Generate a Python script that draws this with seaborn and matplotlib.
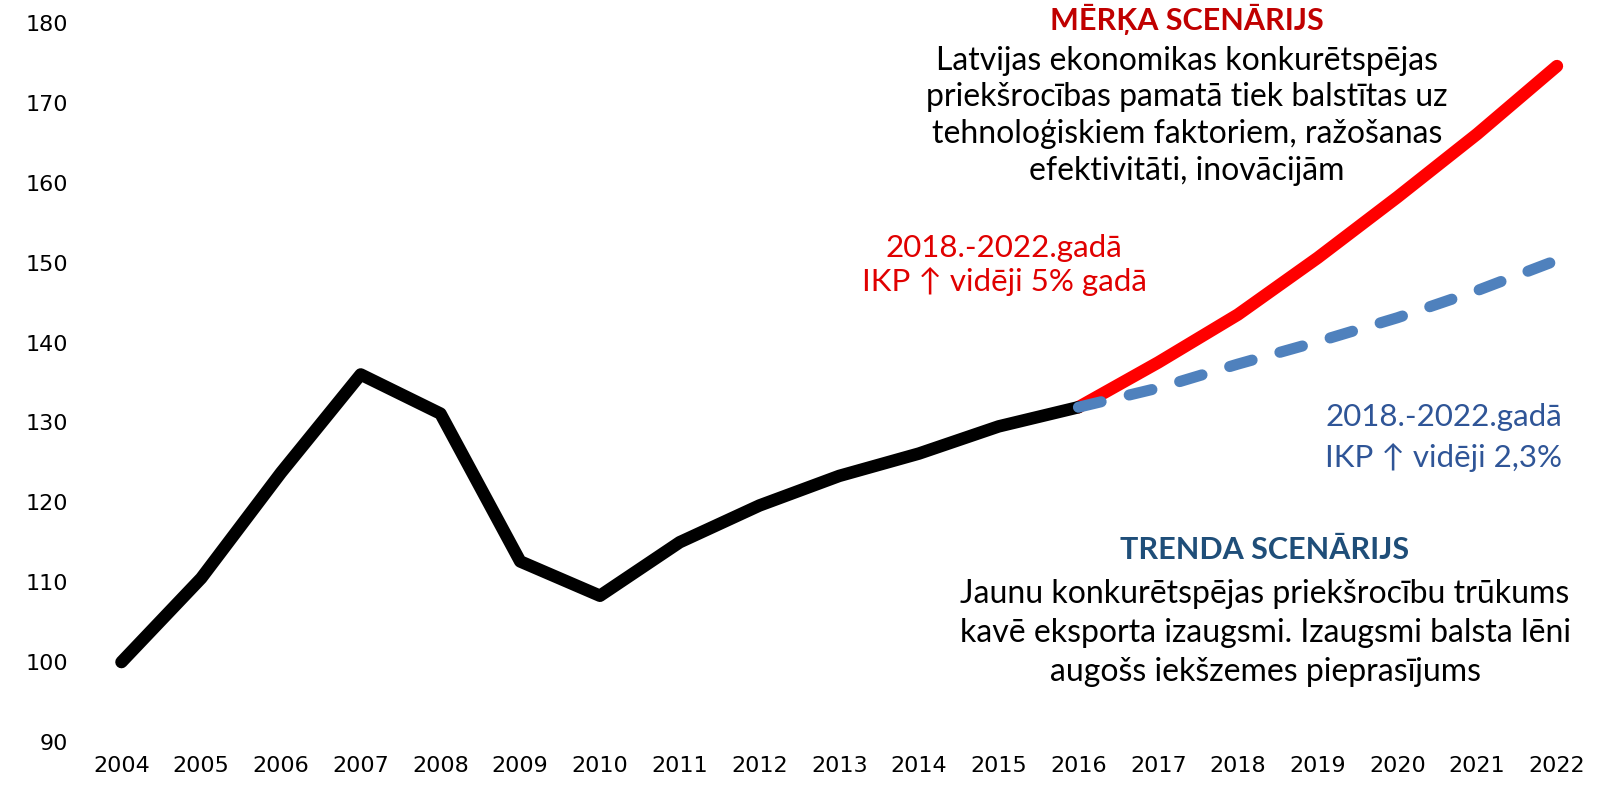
import matplotlib
matplotlib.use("Agg")
import matplotlib.pyplot as plt
import seaborn as sns
import pandas as pd

# ---- data ----
years_hist = [2004, 2005, 2006, 2007, 2008, 2009, 2010, 2011, 2012, 2013, 2014, 2015, 2016]
gdp_hist = [100.0, 110.5, 123.7, 136.0, 131.1, 112.6, 108.3, 115.0, 119.6, 123.3, 126.1, 129.5, 131.9]
years_fc = [2016, 2017, 2018, 2019, 2020, 2021, 2022]
gdp_target = [131.9, 137.5, 143.5, 150.6, 158.2, 166.1, 174.6]
gdp_trend = [131.9, 134.3, 137.3, 140.1, 143.1, 146.5, 150.3]
year_ticks = list(range(2004, 2023))
y_ticks = [90, 100, 110, 120, 130, 140, 150, 160, 170, 180]

df_hist = pd.DataFrame({"year": years_hist, "val": gdp_hist})
df_target = pd.DataFrame({"year": years_fc, "val": gdp_target})
df_trend = pd.DataFrame({"year": years_fc, "val": gdp_trend})

sns.set_style("white")
plt.rcParams["font.family"] = ["Lato", "DejaVu Sans"]

fig = plt.figure(figsize=(16, 7.91), dpi=100)
ax = fig.add_axes([0.051, 0.062, 0.947, 0.909])

sns.lineplot(data=df_target, x="year", y="val", ax=ax, color="#FF0000", lw=9,
             solid_capstyle="round")
sns.lineplot(data=df_hist, x="year", y="val", ax=ax, color="black", lw=9,
             solid_capstyle="round", solid_joinstyle="round")
sns.lineplot(data=df_trend, x="year", y="val", ax=ax, color="#4F81BD", lw=8,
             dashes=False, dash_capstyle="round")
ax.lines[-1].set_linestyle((0, (2.1, 2.6)))

ax.set_xlim(2003.5, 2022.5)
ax.set_ylim(90, 180)
ax.set_xticks(year_ticks)
ax.set_xticklabels([str(y) for y in year_ticks], family="DejaVu Sans", fontsize=16, color="black")
ax.set_yticks(y_ticks)
ax.set_yticklabels([str(y) for y in y_ticks], family="DejaVu Sans", fontsize=16, color="black")
ax.tick_params(length=0, pad=10)
ax.set_xlabel("")
ax.set_ylabel("")
for s in ax.spines.values():
    s.set_visible(False)

# ---- annotations ----
ax.text(2017.36, 180.5, "MĒRĶA SCENĀRIJS", ha="center", va="center", fontsize=22,
        fontweight="bold", color="#C00000", clip_on=False)
ax.text(2017.36, 168.4, "Latvijas ekonomikas konkurētspējas\npriekšrocības pamatā tiek balstītas uz\n"
        "tehnoloģiskiem faktoriem, ražošanas\nefektivitāti, inovācijām",
        ha="center", va="center", fontsize=23, linespacing=1.28, color="black")
ax.text(2015.07, 149.7, "2018.-2022.gadā\nIKP ↑ vidēji 5% gadā", ha="center", va="center",
        fontsize=22.5, linespacing=1.22, color="#E00000")
ax.text(2020.58, 128.05, "2018.-2022.gadā\nIKP ↑ vidēji 2,3%", ha="center", va="center",
        fontsize=22.5, linespacing=1.5, color="#2F5597")
ax.text(2018.34, 114.0, "TRENDA SCENĀRIJS", ha="center", va="center", fontsize=22,
        fontweight="bold", color="#1F4E79")
ax.text(2018.34, 103.6, "Jaunu konkurētspējas priekšrocību trūkums\nkavē eksporta izaugsmi. Izaugsmi balsta lēni\n"
        "augošs iekšzemes pieprasījums",
        ha="center", va="center", fontsize=23, linespacing=1.38, color="black")

plt.savefig("out.png", dpi=100)
